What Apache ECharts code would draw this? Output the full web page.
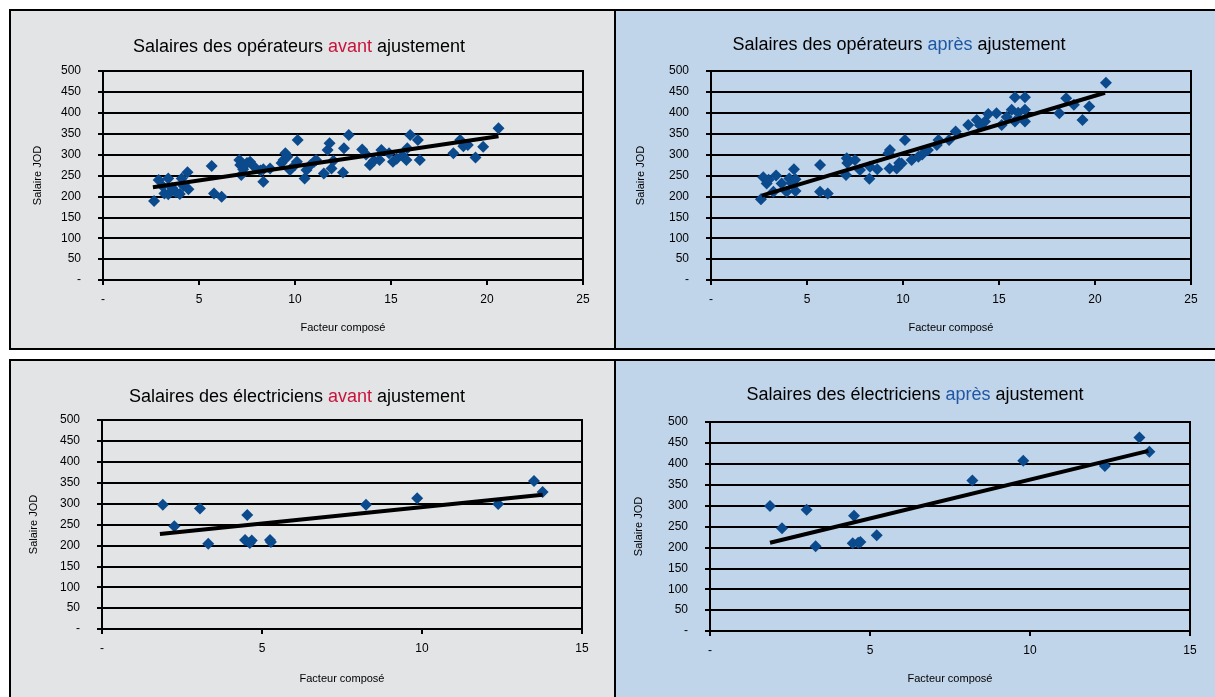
<!DOCTYPE html>
<html>
<head>
<meta charset="utf-8">
<script src="https://cdn.jsdelivr.net/npm/echarts@6/dist/echarts.min.js"></script>
<style>
html,body{margin:0;padding:0;background:#fff;}
#chart{width:1215px;height:697px;}
</style>
</head>
<body>
<div id="chart"></div>
<script>
// ---- Data ----
const opAvantX = [2.66,2.9,3.1,3.2,3.4,3.4,3.6,3.8,4.0,4.1,4.2,4.4,4.45,5.66,5.78,6.18,7.1,7.15,7.2,7.3,7.5,7.66,7.9,8.2,8.35,8.35,8.7,9.3,9.4,9.5,9.6,9.74,10.0,10.14,10.1,10.5,10.6,10.8,11.0,11.1,11.5,11.7,11.8,11.9,12.0,12.5,12.55,12.8,13.5,13.7,13.9,14.1,14.4,14.5,14.9,15.1,15.3,15.6,15.8,15.85,16.0,16.4,16.5,18.25,18.6,18.77,19.0,19.4,19.8,20.6];
const opAvantY = [189,239,225,207,243,205,220,210,206,243,225,258,217,273,207,199,287,275,251,265,280,283,270,262,235,265,267,280,287,303,295,263,275,335,283,243,263,275,283,287,255,311,327,267,285,257,315,347,312,300,275,285,287,311,303,283,290,298,287,315,347,335,287,303,335,320,323,293,319,363];
const opAvantTrendX = [2.6, 20.6];
const opAvantTrendY = [222, 344];

const opApresX = [2.6,2.72,2.9,3.0,3.25,3.39,3.68,3.94,4.08,4.2,4.32,4.4,4.4,5.68,5.68,6.08,7.03,7.07,7.1,7.5,7.76,8.25,8.28,8.66,9.24,9.32,9.3,9.67,9.8,9.93,10.1,10.45,10.8,11.0,11.3,11.76,11.85,12.4,12.74,13.4,13.84,14.0,14.27,14.44,14.87,15.14,15.4,15.66,15.83,15.83,16.0,16.35,16.35,16.35,18.14,18.5,18.9,19.35,19.7,20.57];
const opApresY = [193,246,231,240,211,250,231,211,243,232,265,241,213,275,211,207,251,291,280,287,263,242,271,265,303,311,267,267,280,279,335,287,295,300,311,323,335,335,355,371,383,370,379,397,399,371,390,407,437,379,400,437,407,379,399,435,419,383,415,472];
const opApresTrendX = [2.64, 20.52];
const opApresTrendY = [202, 448];

const elAvantX = [1.9,2.26,3.06,3.32,4.47,4.54,4.62,4.68,5.25,5.28,8.25,9.85,12.38,13.5,13.77];
const elAvantY = [297,246,288,204,213,273,206,212,213,208,297,313,299,354,328];
const elAvantTrendX = [1.81, 13.77];
const elAvantTrendY = [227, 321];

const elApresX = [1.875,2.25,3.02,3.3,4.46,4.5,4.63,4.7,5.21,8.2,9.79,12.34,13.42,13.73];
const elApresY = [299,246,290,203,210,276,211,213,229,360,407,395,463,429];
const elApresTrendX = [1.875, 13.7];
const elApresTrendY = [211, 431];

const titlePrefixes = ['Salaires des opérateurs ', 'Salaires des opérateurs ', 'Salaires des électriciens ', 'Salaires des électriciens '];
const titleWords = ['avant', 'après', 'avant', 'après'];
const titleSuffix = ' ajustement';
const yAxisTitle = 'Salaire JOD';
const xAxisTitle = 'Facteur composé';
const xMaxes = [25, 25, 15, 15];

// ---- Build ----
const FONT = "'Liberation Sans', Arial, sans-serif";
const zip = (a, b) => a.map((v, i) => [v, b[i]]);
const panels = [
  {x: opAvantX, y: opAvantY, tx: opAvantTrendX, ty: opAvantTrendY},
  {x: opApresX, y: opApresY, tx: opApresTrendX, ty: opApresTrendY},
  {x: elAvantX, y: elAvantY, tx: elAvantTrendX, ty: elAvantTrendY},
  {x: elApresX, y: elApresY, tx: elApresTrendX, ty: elApresTrendY}
];
const grids = [
  {left: 103, top: 71, width: 480, height: 209},
  {left: 711, top: 71, width: 480, height: 209},
  {left: 102, top: 420, width: 480, height: 209},
  {left: 710, top: 422, width: 480, height: 209}
];
const yNameGaps = [60, 65, 63, 66];
const xNameGaps = [42, 42, 44, 42];
const titlePos = [[299, 47], [899, 45], [297, 397], [915, 395]];
const wordColors = {avant: '#c8143c', 'après': '#1f57a3'};

const gridOpts = grids.map(g => Object.assign({
  show: true, borderColor: '#000', borderWidth: 2, backgroundColor: 'transparent'
}, g));

const xAxes = grids.map((g, i) => ({
  gridIndex: i, type: 'value', min: 0, max: xMaxes[i], interval: 5,
  name: xAxisTitle, nameLocation: 'middle', nameGap: xNameGaps[i],
  nameTextStyle: {fontFamily: FONT, fontSize: 11, color: '#000'},
  axisLine: {show: true, onZero: false, lineStyle: {color: '#000', width: 2}},
  axisTick: {show: true, inside: false, length: 5, lineStyle: {color: '#000', width: 2}},
  axisLabel: {margin: 14, fontFamily: FONT, fontSize: 12, color: '#000',
    formatter: v => v === 0 ? '-' : String(v)},
  splitLine: {show: false}
}));

const yAxes = grids.map((g, i) => ({
  gridIndex: i, type: 'value', min: 0, max: 500, interval: 50,
  name: yAxisTitle, nameLocation: 'middle', nameGap: yNameGaps[i], nameRotate: 90,
  nameTextStyle: {fontFamily: FONT, fontSize: 11, color: '#000'},
  axisLine: {show: true, onZero: false, lineStyle: {color: '#000', width: 2}},
  axisTick: {show: true, inside: false, length: 5, lineStyle: {color: '#000', width: 2}},
  axisLabel: {margin: 22, fontFamily: FONT, fontSize: 12, color: '#000',
    formatter: v => v === 0 ? '-' : String(v)},
  splitLine: {show: true, lineStyle: {color: '#000', width: 2}}
}));

const series = [];
panels.forEach((p, i) => {
  series.push({
    type: 'scatter', xAxisIndex: i, yAxisIndex: i, data: zip(p.x, p.y),
    symbol: 'diamond', symbolSize: 12, itemStyle: {color: '#0b4a8c', opacity: 1}, z: 3
  });
  series.push({
    type: 'line', xAxisIndex: i, yAxisIndex: i, data: zip(p.tx, p.ty),
    symbol: 'none', lineStyle: {color: '#000', width: 4}, z: 4, silent: true
  });
});

const graphics = [
  {type: 'rect', shape: {x: 10, y: 10, width: 605, height: 339}, style: {fill: '#e3e4e6', stroke: '#000', lineWidth: 2}, z: -100},
  {type: 'rect', shape: {x: 615, y: 10, width: 610, height: 339}, style: {fill: '#c0d4ea', stroke: '#000', lineWidth: 2}, z: -100},
  {type: 'rect', shape: {x: 10, y: 360, width: 605, height: 350}, style: {fill: '#e3e4e6', stroke: '#000', lineWidth: 2}, z: -100},
  {type: 'rect', shape: {x: 615, y: 360, width: 610, height: 350}, style: {fill: '#c0d4ea', stroke: '#000', lineWidth: 2}, z: -100}
];
titlePrefixes.forEach((pre, i) => {
  graphics.push({
    type: 'text', x: titlePos[i][0], y: titlePos[i][1], z: 10,
    style: {
      text: '{a|' + pre + '}{w|' + titleWords[i] + '}{a|' + titleSuffix + '}',
      align: 'center', verticalAlign: 'middle',
      rich: {
        a: {fontFamily: FONT, fontSize: 18, fill: '#000', color: '#000'},
        w: {fontFamily: FONT, fontSize: 18, fill: wordColors[titleWords[i]], color: wordColors[titleWords[i]]}
      }
    }
  });
});

const chart = echarts.init(document.getElementById('chart'), null, {renderer: 'canvas'});
chart.setOption({
  animation: false,
  backgroundColor: '#fff',
  grid: gridOpts,
  xAxis: xAxes,
  yAxis: yAxes,
  series: series,
  graphic: {elements: graphics}
});
</script>
</body>
</html>
